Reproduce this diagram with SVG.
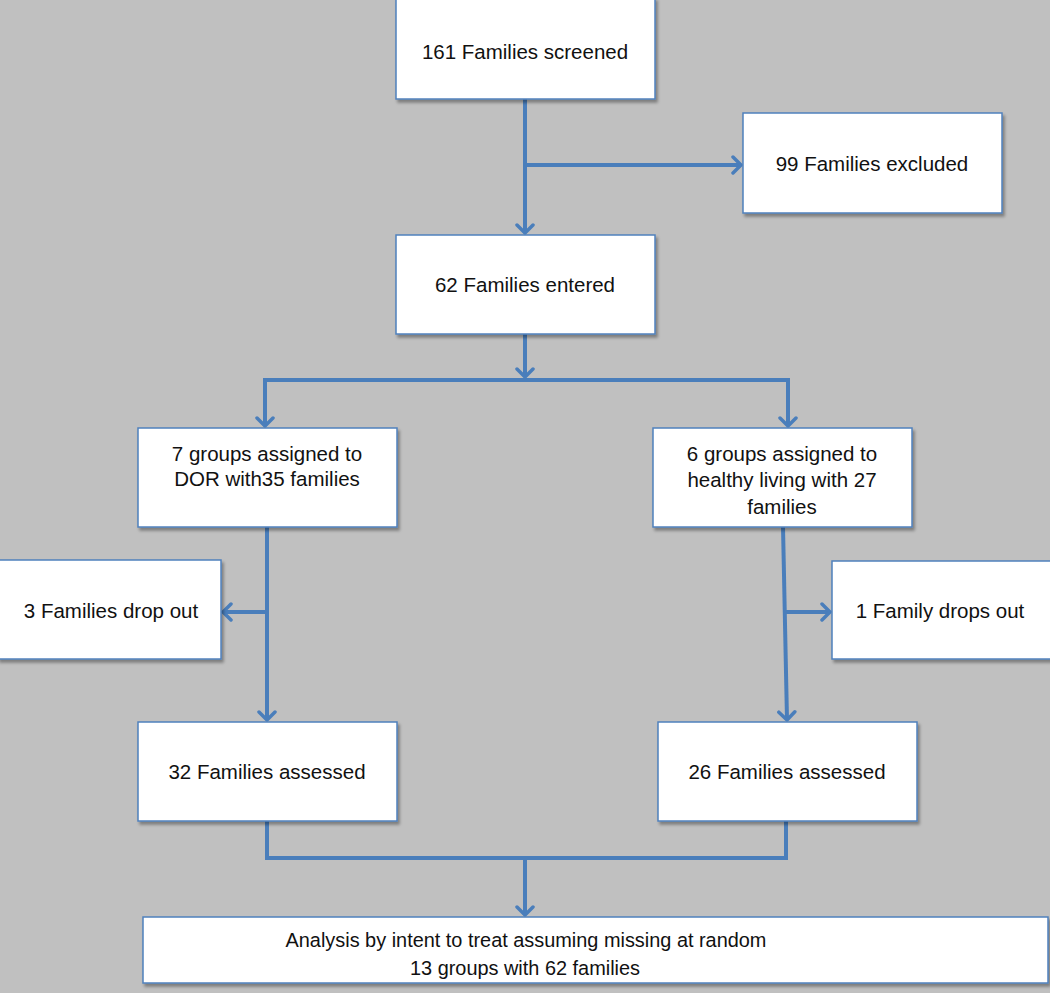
<svg xmlns="http://www.w3.org/2000/svg" width="1050" height="993" viewBox="0 0 1050 993">
<defs>
<filter id="sh" x="-5%" y="-5%" width="115%" height="120%">
<feDropShadow dx="2" dy="3" stdDeviation="1.5" flood-color="#000" flood-opacity="0.35"/>
</filter>
<marker id="ar" viewBox="0 0 20 20" refX="17" refY="10" markerWidth="20" markerHeight="20" markerUnits="userSpaceOnUse" orient="auto">
<polyline points="9,2 17,10 9,18" fill="none" stroke="#4a7ebb" stroke-width="3.5" stroke-linecap="round" stroke-linejoin="round"/>
</marker>
</defs>
<style>
.box{fill:#fff;stroke:#4f81bd;stroke-width:1.5;filter:url(#sh)}
.t{font-family:"Liberation Sans",Arial,sans-serif;font-size:20.5px;fill:#111;text-anchor:middle}
.ts{font-family:"Liberation Sans",Arial,sans-serif;font-size:19.9px;fill:#111;text-anchor:middle}
.c{fill:none;stroke:#4a7ebb;stroke-width:4}
</style>
<rect width="1050" height="993" fill="#c0c0c0"/>
<g id="connectors">
<line class="c" x1="525" y1="99" x2="525" y2="233" marker-end="url(#ar)"/>
<line class="c" x1="525" y1="165" x2="741" y2="165" marker-end="url(#ar)"/>
<line class="c" x1="525" y1="334" x2="525" y2="377" marker-end="url(#ar)"/>
<polyline class="c" points="265,426 265,380 788,380 788,426"/>
<line class="c" x1="265" y1="390" x2="265" y2="426" marker-end="url(#ar)"/>
<line class="c" x1="788" y1="390" x2="788" y2="426" marker-end="url(#ar)"/>
<line class="c" x1="267" y1="527" x2="267" y2="720" marker-end="url(#ar)"/>
<line class="c" x1="267" y1="612" x2="223" y2="612" marker-end="url(#ar)"/>
<line class="c" x1="783" y1="527" x2="787" y2="720" marker-end="url(#ar)"/>
<line class="c" x1="785" y1="612" x2="830" y2="612" marker-end="url(#ar)"/>
<polyline class="c" points="267,821 267,858 786,858 786,821"/>
<line class="c" x1="525" y1="858" x2="525" y2="915" marker-end="url(#ar)"/>
</g>
<g id="n1"><rect class="box" x="396" y="-2" width="259" height="101"/><text class="t" x="525" y="59">161 Families screened</text></g>
<g id="n2"><rect class="box" x="743" y="113" width="259" height="100"/><text class="t" x="872" y="171">99 Families excluded</text></g>
<g id="n3"><rect class="box" x="396" y="235" width="259" height="99"/><text class="t" x="525" y="292">62 Families entered</text></g>
<g id="n4"><rect class="box" x="138" y="428" width="259" height="99"/><text class="t" x="267" y="461">7 groups assigned to</text><text class="t" x="267" y="486">DOR with35 families</text></g>
<g id="n5"><rect class="box" x="653" y="428" width="259" height="99"/><text class="t" x="782" y="461">6 groups assigned to</text><text class="t" x="782" y="487">healthy living with 27</text><text class="t" x="782" y="514">families</text></g>
<g id="n6"><rect class="box" x="-2" y="560" width="223" height="99"/><text class="t" x="111" y="618">3 Families drop out</text></g>
<g id="n7"><rect class="box" x="832" y="561" width="220" height="98"/><text class="t" x="940" y="618">1 Family drops out</text></g>
<g id="n8"><rect class="box" x="138" y="722" width="259" height="99"/><text class="t" x="267" y="779">32 Families assessed</text></g>
<g id="n9"><rect class="box" x="658" y="722" width="259" height="99"/><text class="t" x="787" y="779">26 Families assessed</text></g>
<g id="n10"><rect class="box" x="143" y="917" width="905" height="66"/><text class="ts" x="526" y="947">Analysis by intent to treat assuming missing at random</text><text class="ts" x="525" y="975">13 groups with 62 families</text></g>
</svg>
